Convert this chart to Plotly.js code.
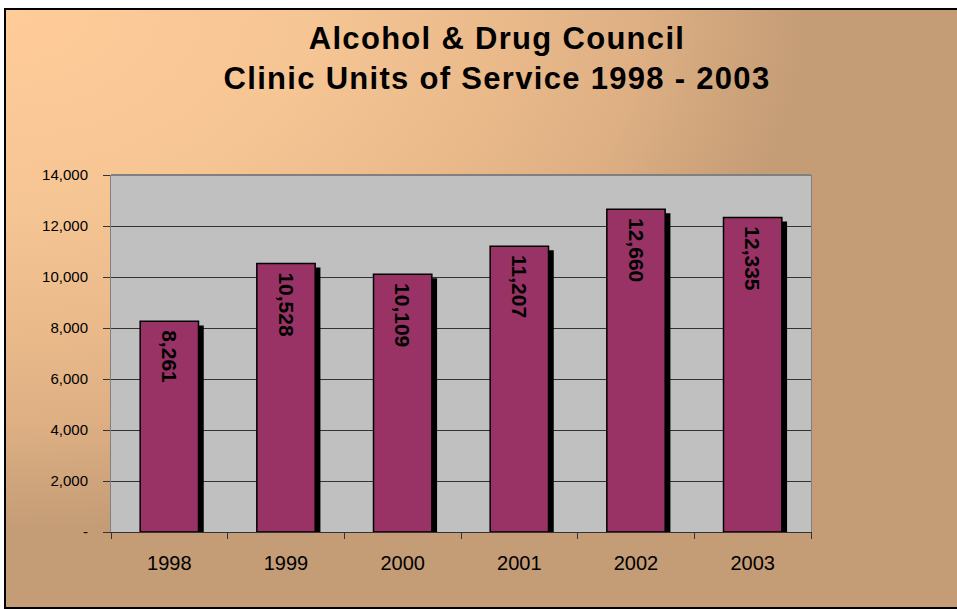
<!DOCTYPE html>
<html>
<head>
<meta charset="utf-8">
<script src="https://cdn.plot.ly/plotly-3.0.1.min.js"></script>
<style>
  html, body { margin: 0; padding: 0; background: #ffffff; overflow: hidden; }
  #frame {
    position: absolute; left: 4px; top: 8px; width: 960px; height: 597px;
    border: 2px solid #000;
    background: radial-gradient(ellipse 800px 520px at 0 0, #FFCC99 0%, #F6C594 38%, #E9B98A 63%, #DDAF83 80%, #C49C76 100%);
  }
  #chart { position: absolute; left: 0; top: 0; width: 957px; height: 609px; }
  .gtitle { letter-spacing: 1.3px; }
</style>
</head>
<body>
<div id="frame"></div>
<div id="chart"></div>
<script>
const years = ['1998', '1999', '2000', '2001', '2002', '2003'];
const units = [8261, 10528, 10109, 11207, 12660, 12335];
const yTickVals = [0, 2000, 4000, 6000, 8000, 10000, 12000, 14000];
const yTickText = ['-', '2,000', '4,000', '6,000', '8,000', '10,000', '12,000', '14,000'];

const SHADOW_DROP = 160;   // shadow sits ~4px lower (style)
const BAR_W = 0.5;

const labels = units.map(v => '\u00a0' + v.toLocaleString('en-US'));

const shadow = {
  type: 'bar', x: years, y: units.map(v => v - SHADOW_DROP),
  width: BAR_W, offset: -BAR_W / 2 + 0.045,
  marker: { color: '#000000', line: { width: 0 } },
  hoverinfo: 'skip', showlegend: false
};

const bars = {
  type: 'bar', x: years, y: units,
  width: BAR_W, offset: -BAR_W / 2,
  marker: { color: '#993366', line: { color: '#000000', width: 1.5 } },
  text: labels, textposition: 'inside', insidetextanchor: 'end',
  textangle: 90, constraintext: 'none',
  textfont: { family: 'Liberation Sans, Arial, sans-serif', size: 21, color: '#000000', weight: 'bold' },
  hoverinfo: 'skip', showlegend: false
};

const layout = {
  width: 957, height: 609,
  margin: { l: 111, r: 146, t: 175, b: 77 },
  paper_bgcolor: 'rgba(0,0,0,0)',
  plot_bgcolor: '#C0C0C0',
  barmode: 'overlay',
  font: { family: 'Liberation Sans, Arial, sans-serif', color: '#000000' },
  title: {
    text: '<b>Alcohol &amp; Drug Council<br>Clinic Units of Service 1998 - 2003</b>',
    font: { family: 'Liberation Sans, Arial, sans-serif', size: 31, color: '#000000' },
    x: 497 / 957, xanchor: 'center', xref: 'container',
    y: 1 - 49 / 609, yanchor: 'top', yref: 'container'
  },
  xaxis: {
    type: 'category', range: [-0.5, 5.5],
    showline: true, linecolor: '#333333', linewidth: 1,
    ticks: 'outside', tickson: 'boundaries', ticklen: 6, tickcolor: '#333333',
    ticklabelstandoff: 13,
    tickfont: { size: 20, color: '#000000' },
    showgrid: false, zeroline: false, fixedrange: true
  },
  yaxis: {
    range: [0, 14000],
    tickvals: yTickVals, ticktext: yTickText,
    showline: true, mirror: true, linecolor: '#808080', linewidth: 1,
    ticks: 'outside', ticklen: 7, tickcolor: '#333333',
    ticklabelstandoff: 12,
    tickfont: { size: 15, color: '#000000' },
    showgrid: true, gridcolor: '#333333', gridwidth: 1,
    zeroline: false, fixedrange: true
  },
  shapes: [
    { type: 'line', xref: 'paper', yref: 'paper', x0: 0, x1: 1, y0: 1, y1: 1,
      line: { color: '#808080', width: 2 } }
  ]
};

Plotly.newPlot('chart', [shadow, bars], layout, { staticPlot: true, displayModeBar: false });
</script>
</body>
</html>
